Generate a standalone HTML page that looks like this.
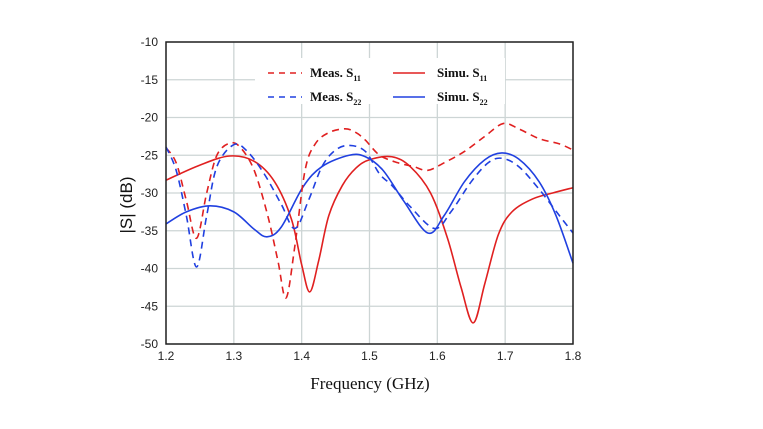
<!DOCTYPE html>
<html><head><meta charset="utf-8"><style>
body{margin:0;background:#fff}
svg{display:block}
.tk{font-family:"Liberation Sans",sans-serif;font-size:12px;fill:#222}
.lg{font-family:"Liberation Serif",serif;font-size:13px;font-weight:bold;fill:#111}
.ti{font-family:"Liberation Serif",serif;font-size:17px;fill:#111}
.yt{font-family:"Liberation Sans",sans-serif;font-size:17px;fill:#111}
</style></head><body>
<svg id="chart" width="763" height="429">
<g id="grid"></g><g id="series"></g><g id="axes"></g>
<g>
<rect x="255" y="58" width="250" height="46" fill="#fff"/>
<line x1="268" y1="73" x2="302" y2="73" stroke="#e02020" stroke-width="1.6" stroke-dasharray="6,5"/>
<text class="lg" x="310" y="77">Meas. S<tspan font-size="8" dy="4">11</tspan></text>
<line x1="393" y1="73" x2="425" y2="73" stroke="#e02020" stroke-width="1.6"/>
<text class="lg" x="437" y="77">Simu. S<tspan font-size="8" dy="4">11</tspan></text>
<line x1="268" y1="97" x2="302" y2="97" stroke="#2040e0" stroke-width="1.6" stroke-dasharray="6,5"/>
<text class="lg" x="310" y="101">Meas. S<tspan font-size="8" dy="4">22</tspan></text>
<line x1="393" y1="97" x2="425" y2="97" stroke="#2040e0" stroke-width="1.6"/>
<text class="lg" x="437" y="101">Simu. S<tspan font-size="8" dy="4">22</tspan></text>
</g>
<text class="ti" x="370" y="389" text-anchor="middle">Frequency (GHz)</text>
<text class="yt" transform="translate(132,205) rotate(-90)" text-anchor="middle">|S| (dB)</text>
</svg>
<script>
const xTicks=[1.2,1.3,1.4,1.5,1.6,1.7,1.8];
const yTicks=[-10,-15,-20,-25,-30,-35,-40,-45,-50];
const measS11F=[1.2,1.215,1.23,1.245,1.26,1.275,1.294,1.31,1.33,1.35,1.365,1.377,1.39,1.405,1.42,1.44,1.464,1.48,1.494,1.515,1.542,1.565,1.586,1.61,1.64,1.67,1.697,1.72,1.75,1.78,1.8];
const measS11=[-24,-26,-31,-36,-30,-25,-23.4,-24,-27,-33,-39,-43.9,-37,-27,-23.5,-22,-21.5,-22,-23,-25,-26,-26.5,-27,-26,-24.5,-22.5,-20.8,-21.5,-22.8,-23.5,-24.3];
const simuS11F=[1.2,1.25,1.294,1.33,1.36,1.385,1.4,1.412,1.425,1.44,1.46,1.48,1.5,1.533,1.56,1.59,1.615,1.635,1.653,1.67,1.69,1.71,1.74,1.77,1.8];
const simuS11=[-28.3,-26.3,-25.1,-25.8,-28.5,-33.5,-39.5,-43.1,-39,-33,-29,-26.7,-25.6,-25.2,-26.5,-30,-36,-42.5,-47.2,-42,-35.5,-32.5,-30.8,-30,-29.3];
const measS22F=[1.2,1.215,1.23,1.245,1.26,1.275,1.3,1.32,1.345,1.37,1.39,1.41,1.43,1.45,1.471,1.494,1.515,1.533,1.56,1.596,1.62,1.65,1.675,1.695,1.72,1.75,1.78,1.8];
const measS22=[-23.9,-27,-33,-39.8,-33,-26.5,-23.6,-24.5,-27.5,-31.5,-34.7,-31,-26.5,-24.3,-23.7,-24.5,-27.5,-29,-31.8,-34.7,-32.5,-28.5,-26,-25.4,-26.5,-29.5,-33,-35.3];
const simuS22F=[1.2,1.23,1.265,1.3,1.33,1.349,1.37,1.402,1.43,1.47,1.494,1.52,1.55,1.586,1.61,1.64,1.67,1.695,1.72,1.75,1.775,1.8];
const simuS22=[-34.1,-32.5,-31.7,-32.5,-34.8,-35.8,-34.5,-29.2,-26.5,-25,-25.2,-27,-31,-35.3,-33,-28.5,-25.6,-24.7,-25.5,-28.5,-33,-39.3];
const L=166,R=573,T=42,B=344;
const X=f=>L+(f-1.2)/0.6*(R-L);
const Y=v=>T+(-10-v)/40*(B-T);
const NS='http://www.w3.org/2000/svg';
function mk(tag,attrs,parent){const e=document.createElementNS(NS,tag);for(const k in attrs)e.setAttribute(k,attrs[k]);parent.appendChild(e);return e;}
const grid=document.getElementById('grid'),axes=document.getElementById('axes'),ser=document.getElementById('series');
xTicks.forEach(t=>{
 const g=mk('line',{x1:X(t),x2:X(t),y1:T,y2:B,stroke:'#cdd5d5','stroke-width':1.3},grid);
 
 
 const l=mk('text',{x:X(t),y:B+16,'text-anchor':'middle',class:'tk'},axes);l.textContent=t.toFixed(1);
 
 
});
yTicks.forEach(t=>{
 const g=mk('line',{x1:L,x2:R,y1:Y(t),y2:Y(t),stroke:'#cdd5d5','stroke-width':1.3},grid);
 
 
 const l=mk('text',{x:158,y:Y(t)+4,'text-anchor':'end',class:'tk'},axes);l.textContent=t;
 
 
});
const fr=mk('rect',{x:L,y:T,width:R-L,height:B-T,fill:'none',stroke:'#222','stroke-width':1.5},axes);


function path(fs,vs){const p=fs.map((f,i)=>[X(f),Y(vs[i])]);let d='M'+p[0][0]+','+p[0][1];
 for(let i=0;i<p.length-1;i++){const p0=p[Math.max(0,i-1)],p1=p[i],p2=p[i+1],p3=p[Math.min(p.length-1,i+2)];
  d+=' C'+(p1[0]+(p2[0]-p0[0])/6)+','+(p1[1]+(p2[1]-p0[1])/6)+' '+(p2[0]-(p3[0]-p1[0])/6)+','+(p2[1]-(p3[1]-p1[1])/6)+' '+p2[0]+','+p2[1];}
 return d;}
const s1=mk('path',{d:path(simuS11F,simuS11),fill:'none',stroke:'#e02020','stroke-width':1.6},ser);


const s2=mk('path',{d:path(simuS22F,simuS22),fill:'none',stroke:'#2040e0','stroke-width':1.6},ser);


const m1=mk('path',{d:path(measS11F,measS11),fill:'none',stroke:'#e02020','stroke-width':1.6,'stroke-dasharray':'7,5'},ser);


const m2=mk('path',{d:path(measS22F,measS22),fill:'none',stroke:'#2040e0','stroke-width':1.6,'stroke-dasharray':'7,5'},ser);


</script>
</body></html>
